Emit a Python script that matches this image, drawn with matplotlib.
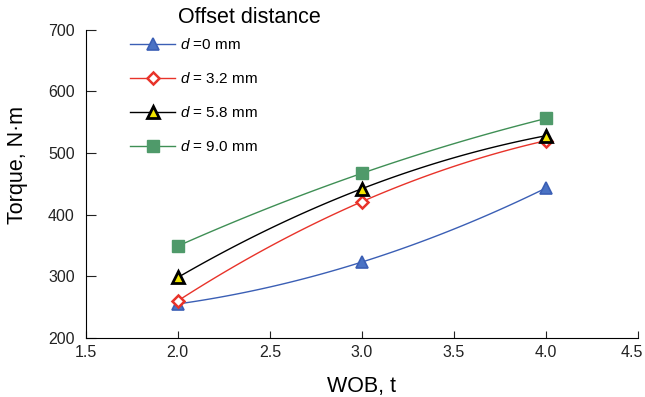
import numpy as np
import matplotlib.pyplot as plt
import matplotlib.transforms as mtransforms

plt.rcParams['font.family'] = ['Liberation Sans', 'DejaVu Sans']
plt.rcParams['mathtext.fontset'] = 'custom'
plt.rcParams['mathtext.it'] = 'Liberation Sans:italic'
plt.rcParams['mathtext.rm'] = 'Liberation Sans'

# datos
wob = [2.0, 3.0, 4.0]
torque_d0 = [255, 323, 443]
torque_d32 = [260, 421, 520]
torque_d58 = [298, 442, 528]
torque_d90 = [349, 467, 556]

labels = [r"$d$ =0 mm", r"$d$ = 3.2 mm", r"$d$ = 5.8 mm", r"$d$ = 9.0 mm"]
series = [torque_d0, torque_d32, torque_d58, torque_d90]
estilos = [
    dict(color="#3b5fb5", marker="^", mfc="#4a72c4", mec="#3b5fb5", ms=8, mew=1.2),
    dict(color="#e8332a", marker="D", mfc="white", mec="#e8332a", ms=6, mew=1.8),
    dict(color="black", marker="^", mfc="#f2e600", mec="black", ms=8, mew=2.0),
    dict(color="#3f8f55", marker="s", mfc="#4f9a6a", mec="#4f9a6a", ms=8, mew=1.0),
]

fig = plt.figure(figsize=(6.45, 3.97), dpi=100)
ax = fig.add_axes([0.133, 0.149, 0.856, 0.776])

xs = np.linspace(wob[0], wob[-1], 100)
for y, lab, st in zip(series, labels, estilos):
    # curva suave (cuadratica exacta por los 3 puntos)
    coef = np.polyfit(wob, y, 2)
    ax.plot(xs, np.polyval(coef, xs), color=st["color"], lw=1.0, zorder=2)
    ax.plot(wob, y, ls="none", marker=st["marker"], mfc=st["mfc"], mec=st["mec"],
            ms=st["ms"], mew=st["mew"], zorder=3)
    # entrada de leyenda
    ax.plot([], [], color=st["color"], lw=1.0, marker=st["marker"], mfc=st["mfc"],
            mec=st["mec"], ms=st["ms"], mew=st["mew"], label=lab)

ax.set_xlim(1.5, 4.5)
ax.set_ylim(200, 700)
ax.set_xticks(np.arange(1.5, 4.51, 0.5))
ax.set_xticklabels([f"{v:.1f}" for v in np.arange(1.5, 4.51, 0.5)])
ax.set_yticks(np.arange(200, 701, 100))
ax.tick_params(direction="in", labelsize=11.5, colors="#222222")
ax.tick_params(axis="y", length=7, pad=8)
ax.tick_params(axis="x", length=5, pad=5)
for s in ["top", "right"]:
    ax.spines[s].set_visible(False)

# ultima etiqueta (4.5) un poco a la izquierda para que no se corte
ultima = ax.get_xticklabels()[-1]
ultima.set_transform(ultima.get_transform() +
                     mtransforms.ScaledTranslation(-6 / 100, 0, fig.dpi_scale_trans))

ax.set_xlabel("WOB, t", fontsize=15.5, labelpad=12)
ax.set_ylabel("Torque, N·m", fontsize=15.5, labelpad=14)
ax.yaxis.set_label_coords(-0.105, 0.56)

fig.text(178 / 645, 0.955, "Offset distance", fontsize=15.5, va="center", ha="left")
fig.legend(loc="upper left", bbox_to_anchor=(130 / 645, 0.907), frameon=False,
           fontsize=11, handlelength=2.95, labelspacing=1.25, handletextpad=0.33,
           borderpad=0, borderaxespad=0)

fig.savefig("out.png", dpi=100)
